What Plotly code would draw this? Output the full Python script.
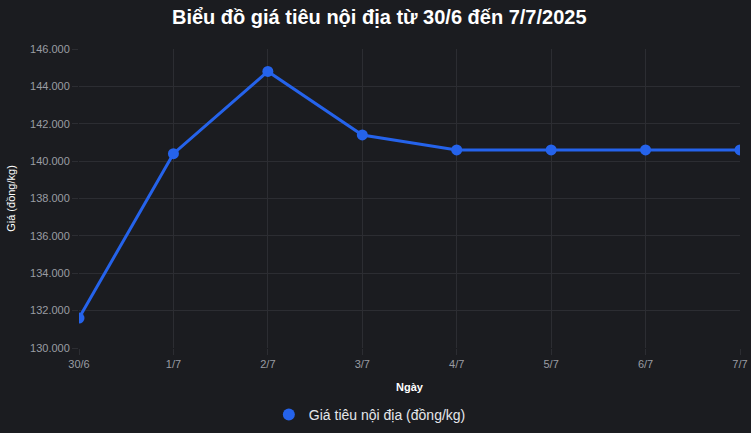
import plotly.graph_objects as go

dates = ["30/6", "1/7", "2/7", "3/7", "4/7", "5/7", "6/7", "7/7"]
prices = [131600, 140400, 144800, 141400, 140600, 140600, 140600, 140600]
y_ticks = [130000, 132000, 134000, 136000, 138000, 140000, 142000, 144000, 146000]

bg = "#1b1c20"
grid = "#2c2d32"
tick_col = "#9a9ca3"
blue = "#2563eb"

fig = go.Figure()
fig.add_trace(go.Scatter(
    x=dates, y=prices, mode="lines",
    name="Giá tiêu nội địa (đồng/kg)", showlegend=False,
    line=dict(color=blue, width=3),
))
fig.add_trace(go.Scatter(
    x=dates, y=prices, mode="markers",
    name="Giá tiêu nội địa (đồng/kg)",
    marker=dict(color=blue, size=11),
))

fig.update_layout(
    width=751, height=433,
    paper_bgcolor=bg, plot_bgcolor=bg,
    separators=",.",
    margin=dict(l=79, r=11, t=49, b=85, autoexpand=False),
    title=dict(text="<b>Biểu đồ giá tiêu nội địa từ 30/6 đến 7/7/2025</b>",
               x=0.505, xanchor="center", y=0.96, yanchor="middle",
               font=dict(family="Liberation Sans, Arial", size=20, color="#ffffff")),
    font=dict(family="Liberation Sans, Arial", size=11, color=tick_col),
    xaxis=dict(
        type="category", range=[0, 7], automargin=False,
        showgrid=True, gridcolor=grid, gridwidth=1,
        zeroline=False, showline=False,
        ticks="outside", ticklen=6, tickcolor=grid,
        tickfont=dict(size=11, color=tick_col),
        title=dict(text="<b>Ngày</b>", font=dict(size=11, color="#ffffff"), standoff=14),
    ),
    yaxis=dict(
        range=[130000, 146000], tickvals=y_ticks, tickformat=",d", automargin=False,
        showgrid=True, gridcolor=grid, gridwidth=1,
        zeroline=False, showline=False,
        ticks="outside", ticklen=6, tickcolor=grid,
        tickfont=dict(size=11, color=tick_col),
        title=dict(text="Giá (đồng/kg)", font=dict(size=11, color="#ffffff"), standoff=12),
    ),
    showlegend=True,
    legend=dict(orientation="h", x=0.44, xanchor="center", y=-0.17, yanchor="top",
                font=dict(size=14, color="#e5e7eb"), bgcolor="rgba(0,0,0,0)",
                itemsizing="constant"),
)

fig.write_html("out.html", config={"displayModeBar": False},
               post_script="document.body.style.margin='0';document.body.style.background='#1b1c20';")
